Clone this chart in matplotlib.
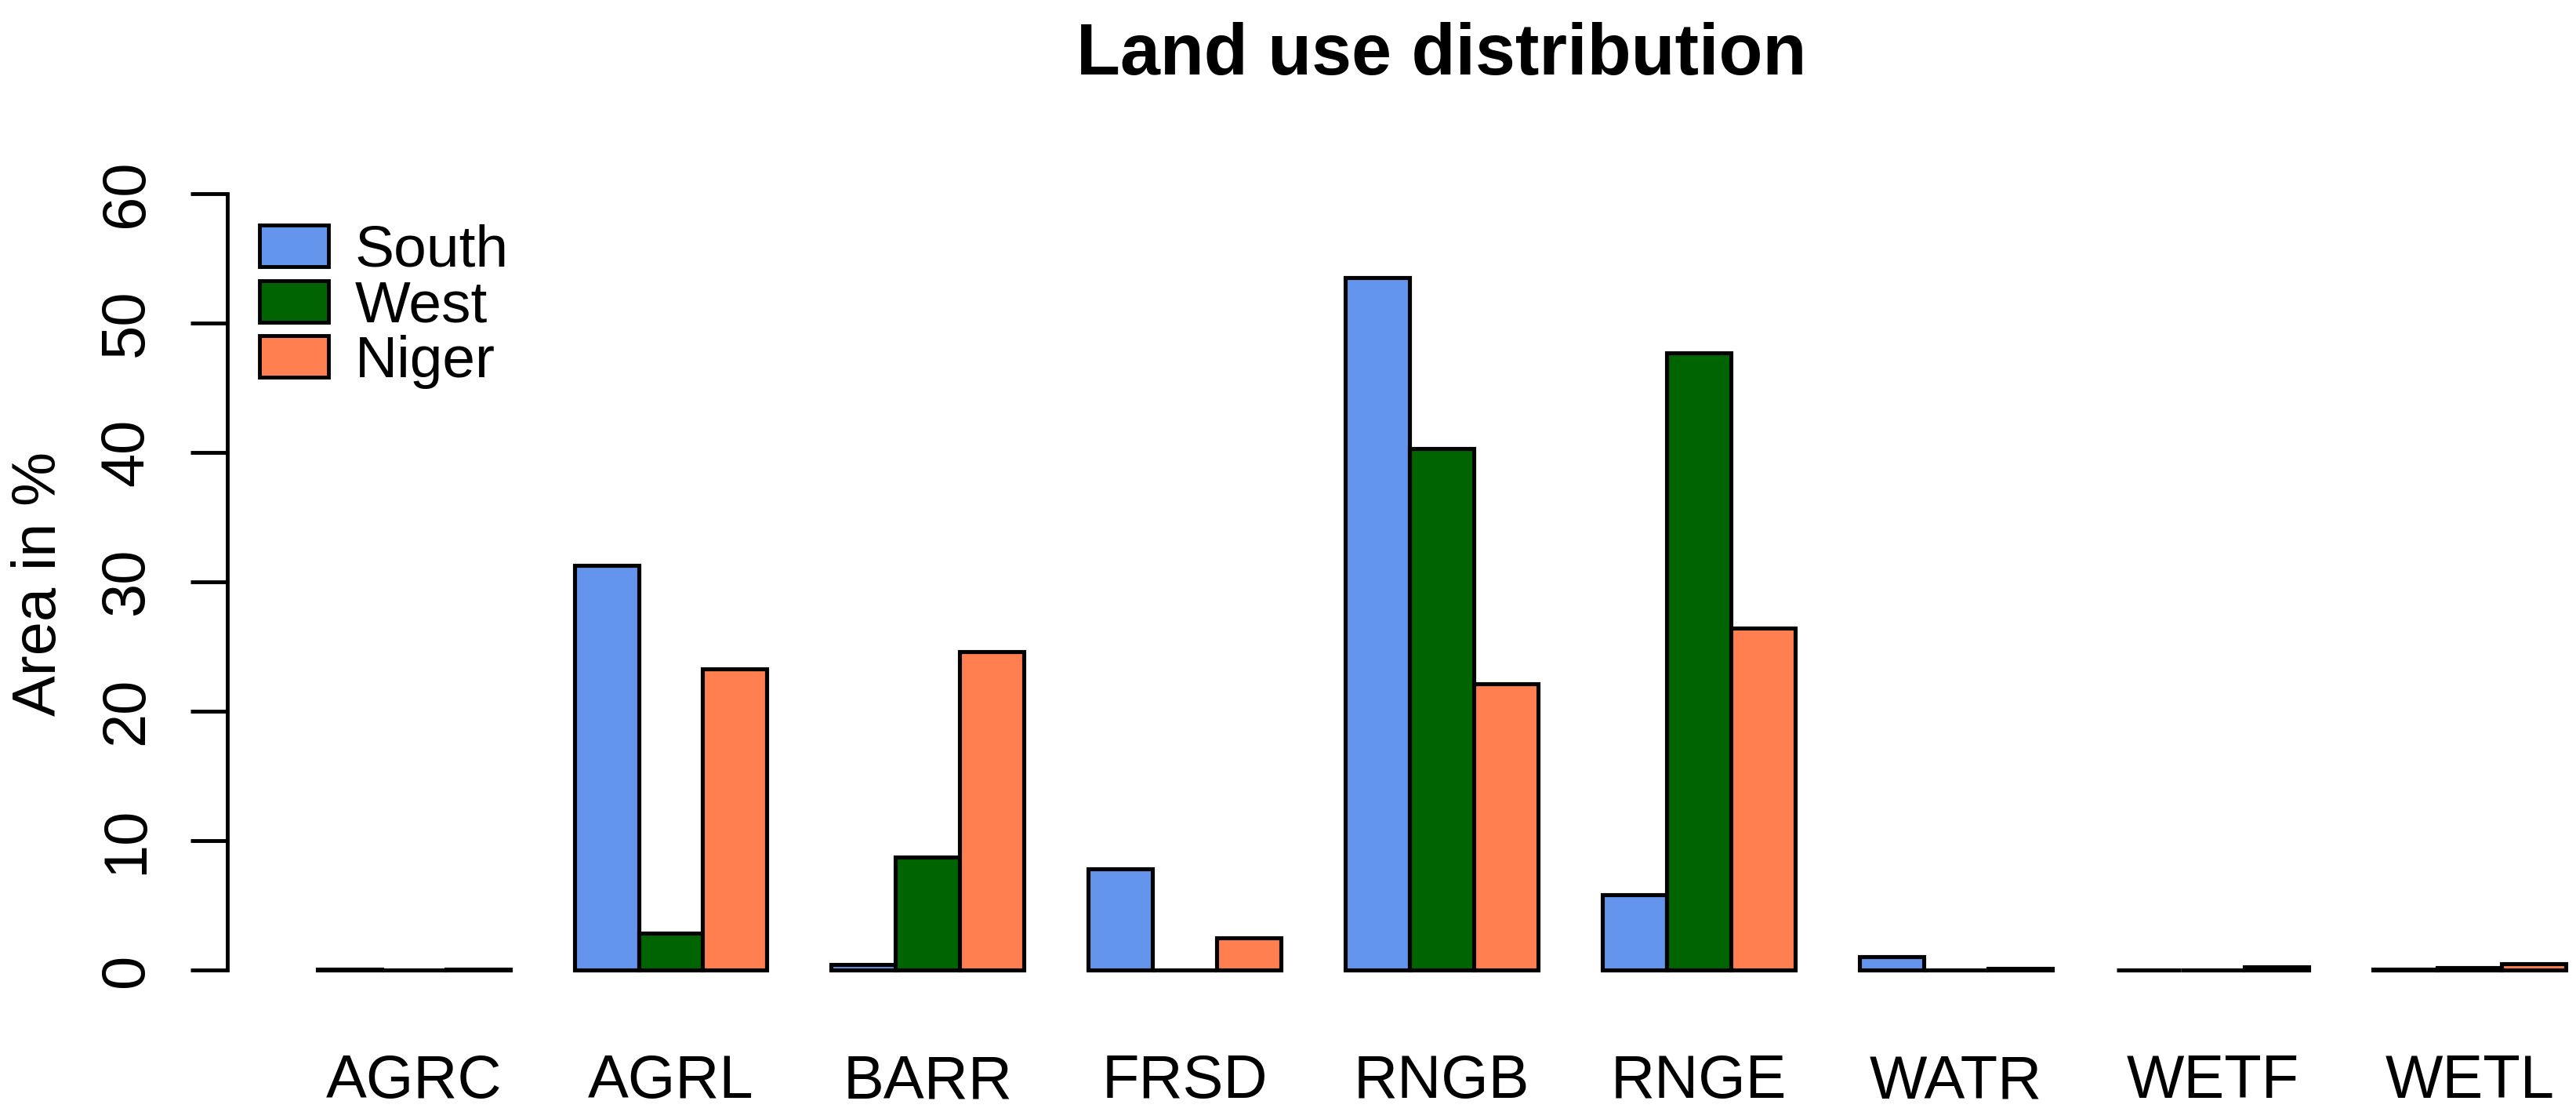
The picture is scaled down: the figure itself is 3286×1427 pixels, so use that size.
import numpy as np
import matplotlib.pyplot as plt
from matplotlib.patches import Patch

plt.rcParams['font.family'] = ['Liberation Sans', 'DejaVu Sans']

# data (area in %)
landuse = ['AGRC', 'AGRL', 'BARR', 'FRSD', 'RNGB', 'RNGE', 'WATR', 'WETF', 'WETL']
south = [0.05, 31.3, 0.4, 7.8, 53.5, 5.8, 1.0, 0.0, 0.03]
west = [0.0, 2.85, 8.7, 0.0, 40.3, 47.7, 0.0, 0.0, 0.2]
niger = [0.05, 23.3, 24.6, 2.5, 22.1, 26.4, 0.1, 0.25, 0.5]
regions = ['South', 'West', 'Niger']
colors = ['cornflowerblue', 'darkgreen', 'coral']

W, H = 3286, 1427
fig = plt.figure(figsize=(W / 100, H / 100), dpi=100)
# plot region like R barplot (beside=TRUE), right part cut by the image edge
ax = fig.add_axes([290 / W, 0.1054, 3098 / W, 0.7493])

n = len(landuse)
left = 1 + 4 * np.arange(n)
for j, (vals, col) in enumerate(zip([south, west, niger], colors)):
    ax.bar(left + j, vals, width=1, align='edge', color=col,
           edgecolor='black', linewidth=3.7)

ax.set_xlim(-0.4, 37.4)
ax.set_ylim(-2.4, 62.4)

for s in ['top', 'right', 'bottom']:
    ax.spines[s].set_visible(False)
ax.spines['left'].set_bounds(0, 60)
ax.spines['left'].set_linewidth(3.5)

ax.set_yticks(np.arange(0, 61, 10))
ax.tick_params(axis='y', length=34, width=3.5, pad=32, labelsize=56)
for lab in ax.get_yticklabels():
    lab.set_rotation(90)
    lab.set_va('center')

ax.set_xticks(left + 1.5)
ax.set_xticklabels(landuse)
ax.tick_params(axis='x', length=0, pad=48, labelsize=56)

fig.text(51 / W, 683 / H, 'Area in %', rotation=90, ha='center', va='center',
         fontsize=56)
fig.text((290 + 3098 / 2) / W, (H - 95) / H, 'Land use distribution',
         ha='center', va='baseline', fontsize=66, fontweight='bold')

handles = [Patch(facecolor=c, edgecolor='black', linewidth=3.5) for c in colors]
ax.legend(handles, regions, loc='upper left',
          bbox_to_anchor=(331 / W, (H - 286) / H), bbox_transform=fig.transFigure,
          frameon=False, fontsize=54, borderpad=0, borderaxespad=0,
          handlelength=1.17, handleheight=0.71, handletextpad=0.45,
          labelspacing=0.02)

fig.savefig('out.png', dpi=100)
